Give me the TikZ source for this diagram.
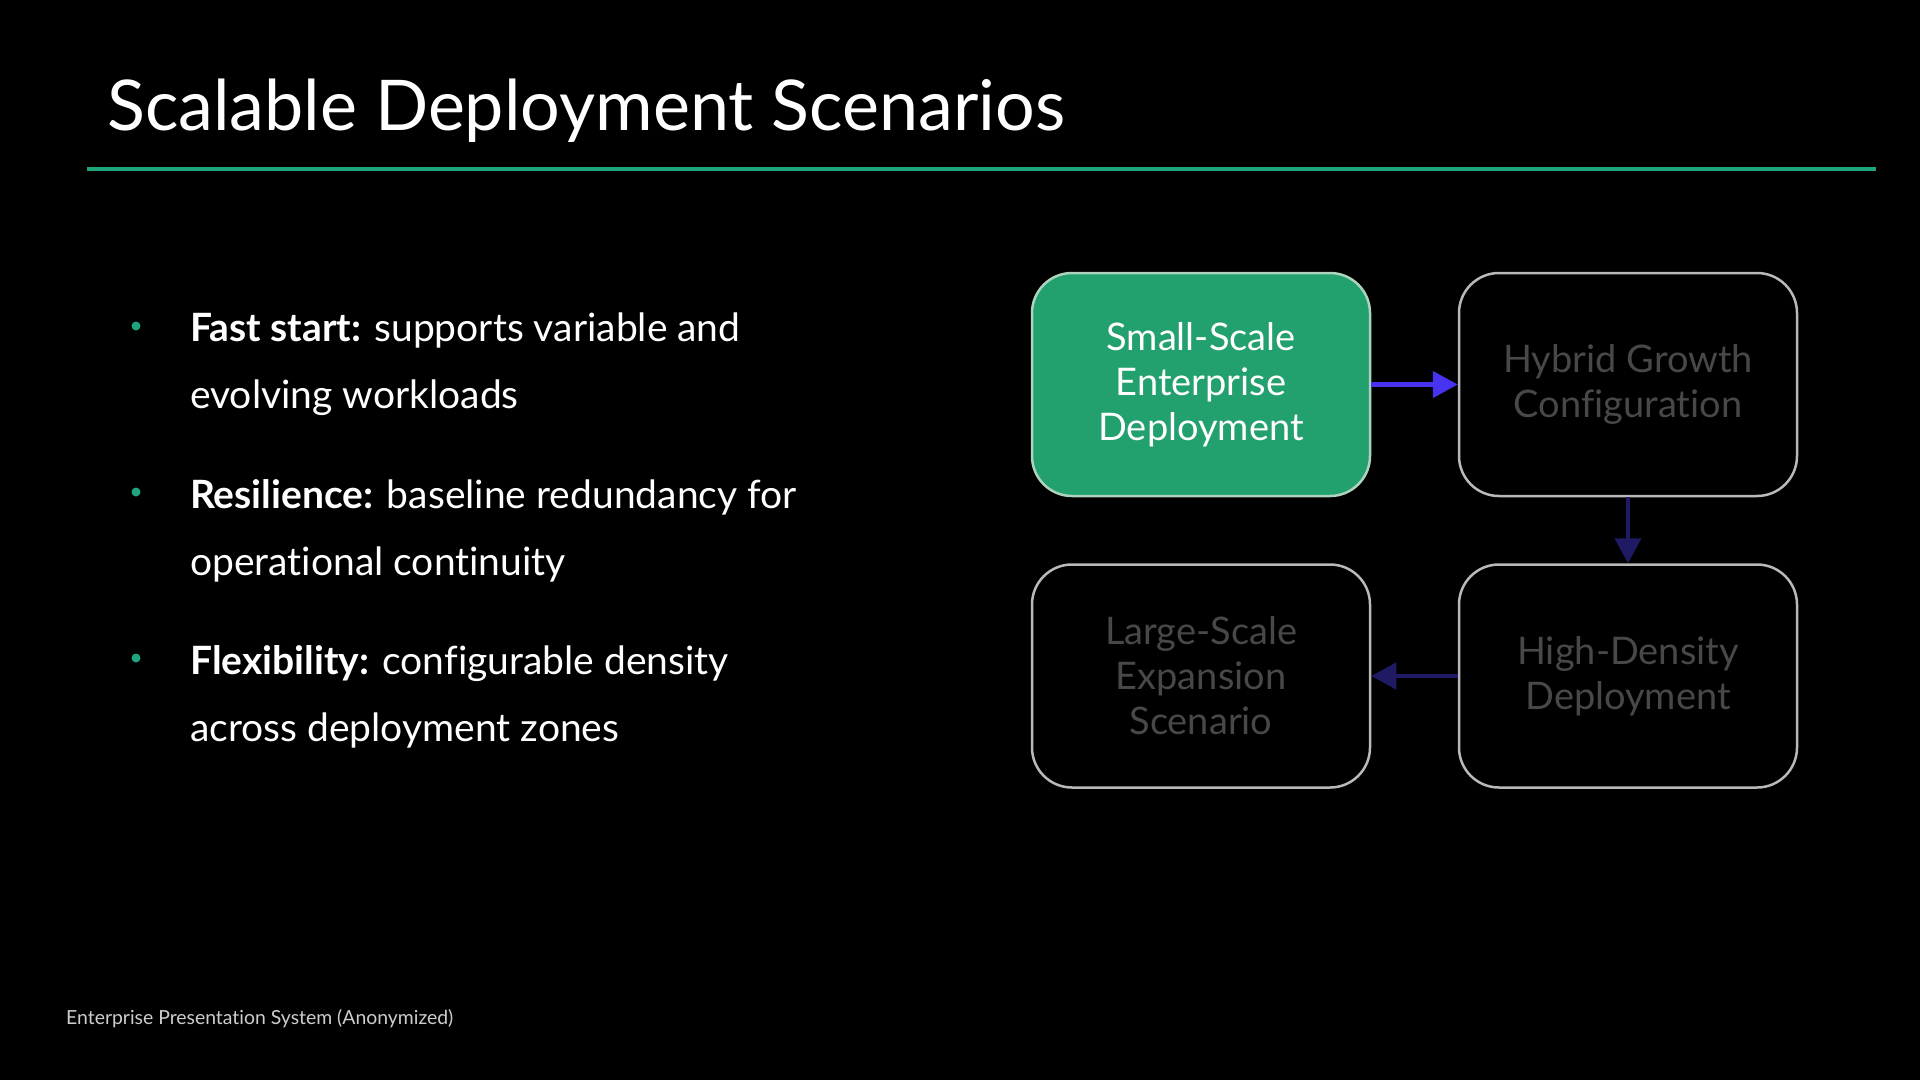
\documentclass[tikz,border=0pt]{standalone}
\usepackage{fontspec}
\setmainfont{Lato}[Ligatures=NoCommon]
\usetikzlibrary{arrows.meta}
\definecolor{accent}{RGB}{31,165,125}
\definecolor{boxgreen}{RGB}{34,160,110}
\definecolor{boxedge}{RGB}{185,185,185}
\definecolor{greenedge}{RGB}{175,210,190}
\definecolor{dimtext}{RGB}{72,72,72}
\definecolor{arrowA}{RGB}{72,52,240}
\definecolor{arrowB}{RGB}{32,26,100}
\definecolor{foot}{RGB}{205,205,205}
\tikzset{
  stage/.style={draw=boxedge, line width=2.5pt, rounded corners=40pt,
    minimum width=338pt, minimum height=223pt, align=center,
    text=dimtext, font=\fontsize{38}{45}\selectfont},
  activestage/.style={stage, fill=boxgreen, draw=greenedge, text=white},
  flow/.style={line width=4.5pt, -{Triangle[length=25pt,width=26pt]}},
  bullettext/.style={anchor=base west, align=left, text=white,
    font=\fontsize{39}{67}\selectfont, inner sep=0pt},
  dot/.style={circle, fill=accent, inner sep=0pt, minimum size=9pt}
}
\begin{document}
\begin{tikzpicture}[x=1pt,y=-1pt]
\fill[black] (0,0) rectangle (1920,1080);
\useasboundingbox (0,0) rectangle (1920,1080);
% title
\node[anchor=base west, text=white, inner sep=0pt, font=\fontsize{70}{80}\selectfont] (title) at (107,130) {Scalable Deployment Scenarios};
\coordinate (ruleL) at (87,169);
\coordinate (ruleR) at (1876,169);
\draw[accent, line width=4pt] (ruleL) -- (ruleR);
% bullets (anchored at the baseline of the last line)
\node[bullettext] (b1) at (190,408) {\textbf{Fast start:} supports variable and\\evolving workloads};
\node[bullettext] (b2) at (190,575) {\textbf{Resilience:} baseline redundancy for\\operational continuity};
\node[bullettext] (b3) at (190,741) {\textbf{Flexibility:} configurable density\\across deployment zones};
\node[dot] (d1) at (136,326) {};
\node[dot] (d2) at (136,492) {};
\node[dot] (d3) at (136,658) {};
% stages
\node[activestage] (s1) at (1201,384.5) {Small-Scale\\Enterprise\\Deployment};
\node[stage] (s2) at (1628,384.5) {Hybrid Growth\\Configuration};
\node[stage] (s3) at (1628,676) {High-Density\\Deployment};
\node[stage] (s4) at (1201,676) {Large-Scale\\Expansion\\Scenario};
\draw[flow, arrowA] (s1) -- (s2);
\draw[flow, arrowB] (s2) -- (s3);
\draw[flow, arrowB] (s3) -- (s4);
% footer
\node[anchor=base west, text=foot, inner sep=0pt, font=\fontsize{19.4}{22}\selectfont] (footer) at (66,1024) {Enterprise Presentation System (Anonymized)};
\end{tikzpicture}
\end{document}
